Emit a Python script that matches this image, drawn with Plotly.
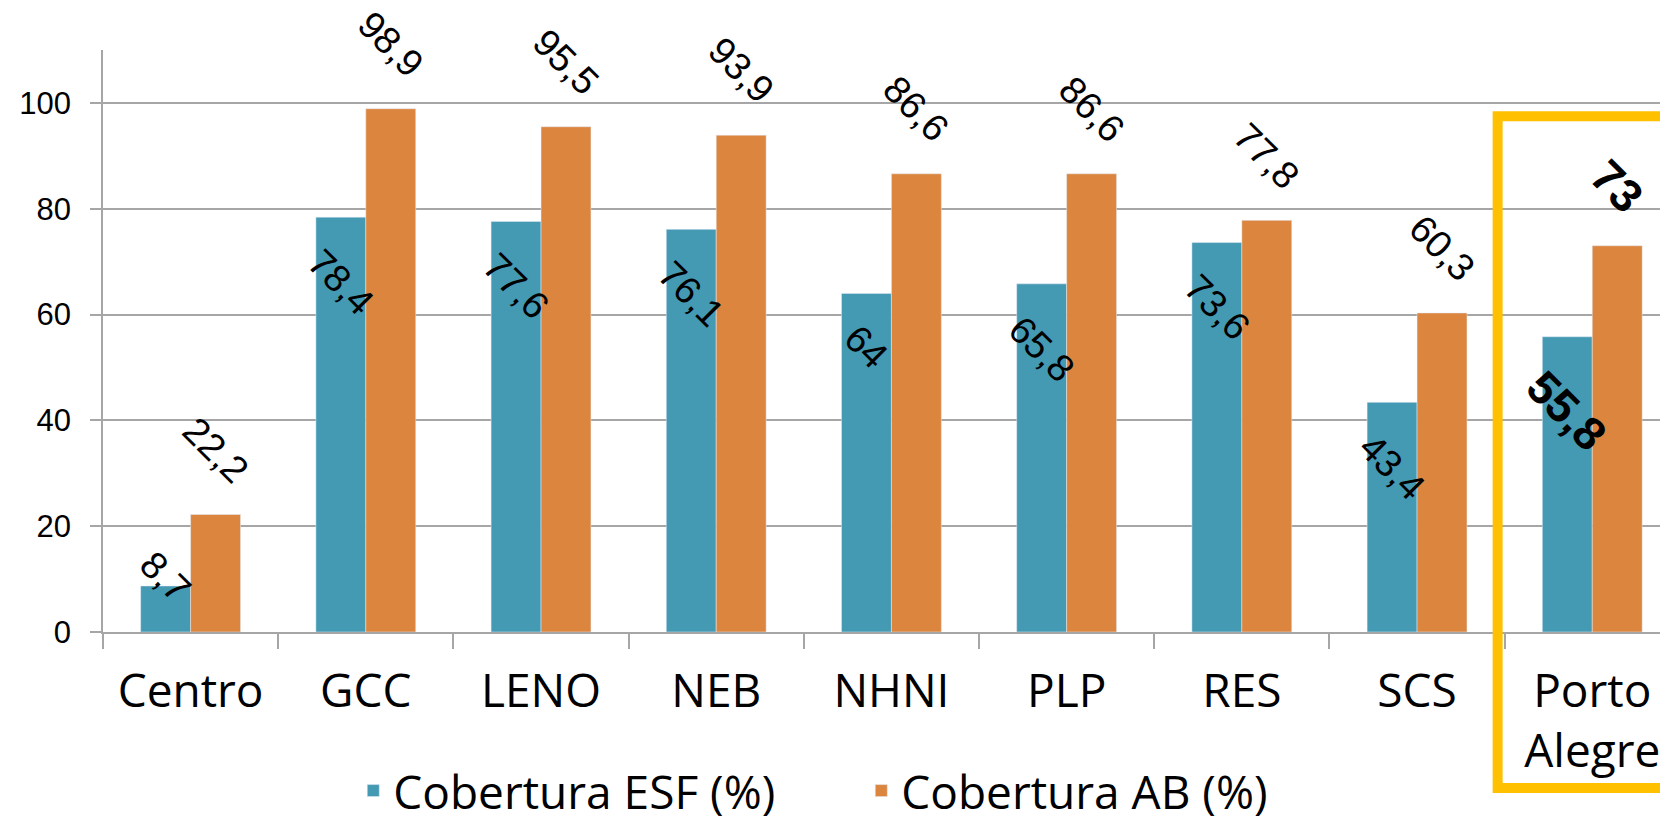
import plotly.graph_objects as go


regioes = ["Centro", "GCC", "LENO", "NEB", "NHNI", "PLP", "RES", "SCS", "Porto<br>Alegre"]
cobertura_esf = [8.7, 78.4, 77.6, 76.1, 64, 65.8, 73.6, 43.4, 55.8]
cobertura_ab = [22.2, 98.9, 95.5, 93.9, 86.6, 86.6, 77.8, 60.3, 73]
y_ticks = [0, 20, 40, 60, 80, 100]
destaque = "Porto<br>Alegre"

COR_ESF = "#4499b3"
COR_AB = "#dc853f"
COR_DESTAQUE = "#ffc000"
COR_GRADE = "#a6a6a6"

FONTE_TEXTO = "Open Sans"
FONTE_NUM = "Liberation Sans"
BARGAP = 0.43


def rotulo(v):
    return f"{v:g}".replace(".", ",")


fig = go.Figure()
fig.add_trace(go.Bar(x=regioes, y=cobertura_esf, name="Cobertura ESF (%)", marker_color=COR_ESF))
fig.add_trace(go.Bar(x=regioes, y=cobertura_ab, name="Cobertura AB (%)", marker_color=COR_AB))

# rotulos de dados girados, como no grafico original
meia = (1 - BARGAP) / 4
for i, reg in enumerate(regioes):
    negrito = reg == destaque
    fonte = dict(family=FONTE_NUM, size=46 if negrito else 38, color="black")
    txt_esf = f"<b>{rotulo(cobertura_esf[i])}</b>" if negrito else rotulo(cobertura_esf[i])
    txt_ab = f"<b>{rotulo(cobertura_ab[i])}</b>" if negrito else rotulo(cobertura_ab[i])
    if cobertura_esf[i] < 15:
        anc, shift = "middle", 9
    else:
        anc, shift = "top", -21
    fig.add_annotation(x=i - meia, y=cobertura_esf[i], text=txt_esf, textangle=45, showarrow=False,
                       xanchor="center", yanchor=anc, yshift=shift, font=fonte)
    fig.add_annotation(x=i + meia, y=cobertura_ab[i], text=txt_ab, textangle=45, showarrow=False,
                       xanchor="center", yanchor="bottom", yshift=21, font=fonte)

# caixa amarela destacando Porto Alegre
idx = regioes.index(destaque)
fig.add_shape(type="rect", xref="x", yref="paper", x0=idx - 0.54, x1=idx + 0.7, y0=-0.268, y1=0.886,
              line=dict(color=COR_DESTAQUE, width=10), fillcolor="rgba(0,0,0,0)", layer="above")

# a pagina tem margem de 8px no body; as margens compensam esse deslocamento
fig.update_layout(
    width=1668, height=817,
    barmode="group", bargap=BARGAP, bargroupgap=0,
    plot_bgcolor="white", paper_bgcolor="white",
    margin=dict(l=95, r=0, t=42, b=193, autoexpand=False),
    showlegend=True,
    legend=dict(orientation="h", xref="container", yref="container", x=0.207, xanchor="left",
                y=0.042, yanchor="middle", font=dict(family=FONTE_TEXTO, size=46, color="black"),
                entrywidth=463, entrywidthmode="pixels", bgcolor="rgba(0,0,0,0)"),
    xaxis=dict(range=[-0.5, 8.478], showline=True, linecolor=COR_GRADE, linewidth=1.5,
               ticks="outside", tickson="boundaries", ticklen=15, tickcolor=COR_GRADE, tickwidth=1.5,
               tickfont=dict(family=FONTE_TEXTO, size=46, color="black"), ticklabelstandoff=18,
               showgrid=False),
    yaxis=dict(range=[0, 110], tickvals=y_ticks, showline=True, linecolor=COR_GRADE, linewidth=1.5,
               ticks="outside", ticklen=11, tickcolor=COR_GRADE, tickwidth=1.5,
               gridcolor=COR_GRADE, gridwidth=1.5, zeroline=False,
               tickfont=dict(family=FONTE_NUM, size=31, color="black"), ticklabelstandoff=13),
)

fig.write_html("out.html")
